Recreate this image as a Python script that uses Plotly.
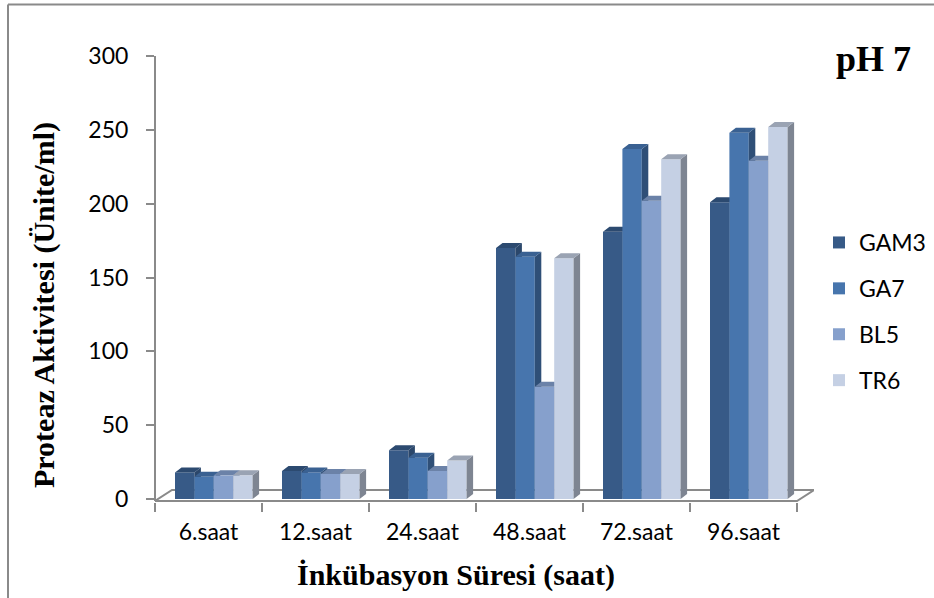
import plotly.graph_objects as go

# ---- data ----
categories = ["6.saat", "12.saat", "24.saat", "48.saat", "72.saat", "96.saat"]
series_names = ["GAM3", "GA7", "BL5", "TR6"]
gam3 = [18, 19, 33, 170, 181, 201]
ga7 = [15, 18, 28, 164, 237, 248]
bl5 = [16, 17, 19, 76, 202, 229]
tr6 = [16, 17, 26, 163, 230, 252]
y_tick_values = [0, 50, 100, 150, 200, 250, 300]

series_values = [gam3, ga7, bl5, tr6]

# face colours of the pseudo-3D columns
front_colors = ["#375A87", "#4775AD", "#86A0CC", "#C5D0E4"]
top_colors = ["#2C4A70", "#3A6192", "#6B82A8", "#9AA3B3"]
side_colors = ["#2B476B", "#2F4F77", "#5D7093", "#7E8592"]
axis_gray = "#8A8A8A"

# ---- page / plot-area geometry (pixels) ----
W, H = 934, 598
L, R, T, B = 155, 814, 56, 502
ZERO_PX = 499
PX_X = 107.0                      # pixels per category
PX_Y = (ZERO_PX - T) / 300.0      # pixels per activity unit
X_RANGE = [-0.5, -0.5 + (R - L) / PX_X]
Y_RANGE = [-(B - ZERO_PX) / PX_Y, 300]

BAR_W = 19.4 / PX_X
BAR_START = -33.5 / PX_X
DEPTH_X = 6.5 / PX_X
DEPTH_Y = 5.0 / PX_Y
FLOOR_FRONT = -(501 - ZERO_PX) / PX_Y
FLOOR_BACK = (ZERO_PX - 490) / PX_Y
FLOOR_DX = 17 / PX_X


def paper_x(px):
    return (px - L) / (R - L)


def paper_y(py):
    return (B - py) / (B - T)


fig = go.Figure()
xs = list(range(len(categories)))

for k, (name, vals) in enumerate(zip(series_names, series_values)):
    offset = BAR_START + k * BAR_W
    fig.add_trace(go.Bar(
        x=xs, y=vals, name=name, offset=offset, width=BAR_W,
        marker=dict(color=front_colors[k], line=dict(width=0)),
        legendgroup=name, zorder=3 * k, hoverinfo="skip",
    ))
    top_x, top_y, side_x, side_y = [], [], [], []
    for i, v in enumerate(vals):
        x0 = i + offset
        x1 = x0 + BAR_W
        top_x += [x0, x0 + DEPTH_X, x1 + DEPTH_X, x1, x0, None]
        top_y += [v, v + DEPTH_Y, v + DEPTH_Y, v, v, None]
        side_x += [x1, x1, x1 + DEPTH_X, x1 + DEPTH_X, x1, None]
        side_y += [0, v, v + DEPTH_Y, DEPTH_Y, 0, None]
    fig.add_trace(go.Scatter(
        x=side_x, y=side_y, mode="lines", fill="toself",
        fillcolor=side_colors[k], line=dict(width=0, color=side_colors[k]),
        showlegend=False, hoverinfo="skip", zorder=3 * k + 1,
    ))
    fig.add_trace(go.Scatter(
        x=top_x, y=top_y, mode="lines", fill="toself",
        fillcolor=top_colors[k], line=dict(width=0, color=top_colors[k]),
        showlegend=False, hoverinfo="skip", zorder=3 * k + 2,
    ))

# floor of the 3D plot
floor_path = (
    f"M {X_RANGE[0]},{FLOOR_FRONT} L 5.5,{FLOOR_FRONT} "
    f"L {5.5 + FLOOR_DX},{FLOOR_BACK} L {X_RANGE[0] + FLOOR_DX},{FLOOR_BACK} Z"
)
shapes = [
    dict(type="path", xref="x", yref="y", path=floor_path,
         line=dict(color=axis_gray, width=2), fillcolor="rgba(0,0,0,0)",
         layer="below"),
    # vertical value axis
    dict(type="line", xref="paper", yref="y", x0=0, x1=0,
         y0=FLOOR_FRONT, y1=300, line=dict(color=axis_gray, width=2),
         layer="above"),
    # chart frame
    dict(type="line", xref="paper", yref="paper",
         x0=paper_x(8), x1=paper_x(W), y0=paper_y(4.5), y1=paper_y(4.5),
         line=dict(color=axis_gray, width=2)),
    dict(type="line", xref="paper", yref="paper",
         x0=paper_x(8), x1=paper_x(8), y0=paper_y(4.5), y1=paper_y(H),
         line=dict(color=axis_gray, width=2)),
]

serif = "Liberation Serif, Times New Roman, serif"
sans = "Lato, Open Sans, sans-serif"

annotations = [
    dict(text="<b>pH 7</b>", xref="paper", yref="paper",
         x=paper_x(874), y=paper_y(59), xanchor="center", yanchor="middle",
         showarrow=False, font=dict(family=serif, size=36, color="black")),
    dict(text="<b>İnkübasyon Süresi (saat)</b>", xref="paper", yref="paper",
         x=paper_x(456), y=paper_y(575), xanchor="center", yanchor="middle",
         showarrow=False, font=dict(family=serif, size=30, color="black")),
    dict(text="<b>Proteaz Aktivitesi (Ünite/ml)</b>", xref="paper", yref="paper",
         x=paper_x(44), y=paper_y(305), xanchor="center", yanchor="middle",
         textangle=-90, showarrow=False,
         font=dict(family=serif, size=30, color="black")),
]

fig.update_layout(
    width=W, height=H,
    margin=dict(l=L, r=W - R, t=T, b=H - B, pad=0, autoexpand=False),
    paper_bgcolor="white", plot_bgcolor="rgba(0,0,0,0)",
    barmode="overlay",
    showlegend=True,
    legend=dict(
        x=paper_x(819), y=paper_y(221), xanchor="left", yanchor="top",
        font=dict(family=sans, size=23, color="black"),
        tracegroupgap=13, bgcolor="rgba(0,0,0,0)",
    ),
    shapes=shapes,
    annotations=annotations,
    xaxis=dict(
        range=X_RANGE, showgrid=False, zeroline=False, showline=False,
        tickmode="array", tickvals=xs, ticktext=categories,
        ticks="", ticklabelstandoff=14,
        tickfont=dict(family=sans, size=23, color="black"),
        minor=dict(tickmode="linear", tick0=-0.5, dtick=1, ticks="outside",
                   ticklen=9, tickwidth=2, tickcolor=axis_gray, showgrid=False),
        fixedrange=True,
    ),
    yaxis=dict(
        range=Y_RANGE, showgrid=False, zeroline=False, showline=False,
        tickmode="array", tickvals=y_tick_values,
        ticks="outside", ticklen=8, tickwidth=2, tickcolor=axis_gray,
        ticklabelstandoff=13,
        tickfont=dict(family=sans, size=23, color="black"),
        fixedrange=True,
    ),
)

fig.write_html("out.html")
